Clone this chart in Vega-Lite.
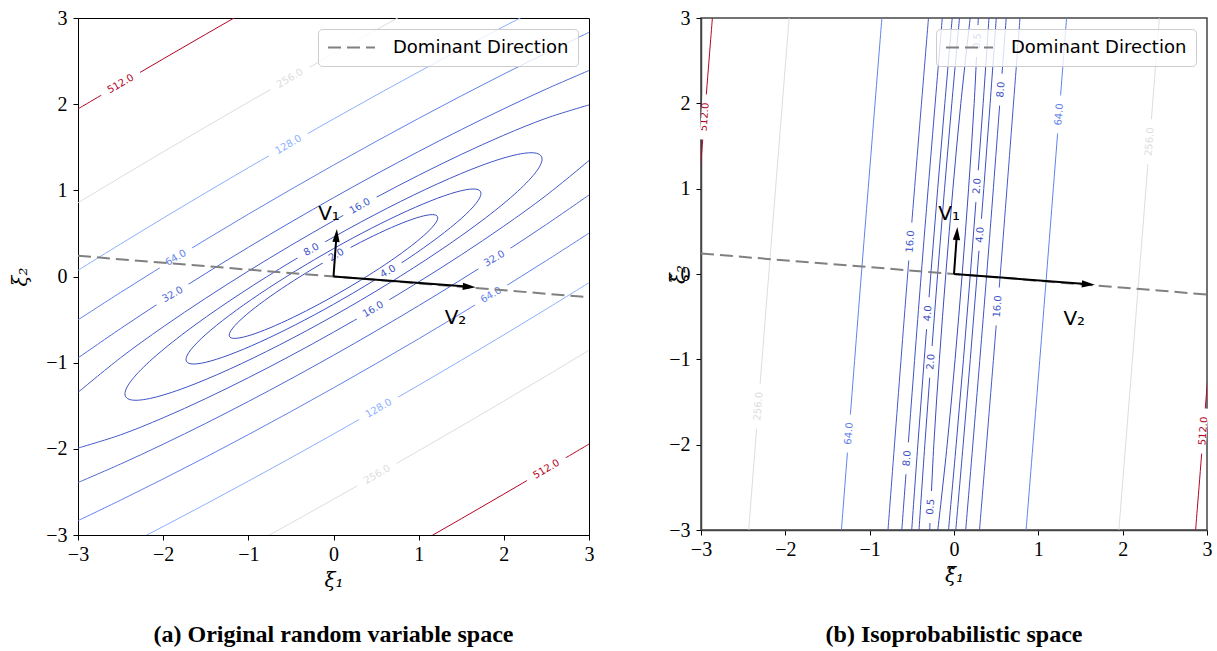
{
  "$schema": "https://vega.github.io/schema/vega-lite/v6.json",
  "padding": {"left": 10, "top": 7, "right": 5, "bottom": 5},
  "spacing": 72,
  "background": "white",
  "datasets": {
    "lc": [
      {"lvl":2,"seg":"e2","i":0,"x":1.2244,"y":0.6809},{"lvl":2,"seg":"e2","i":1,"x":1.1827,"y":0.7168},{"lvl":2,"seg":"e2","i":2,"x":1.0603,"y":0.704},{"lvl":2,"seg":"e2","i":3,"x":0.8658,"y":0.6431},{"lvl":2,"seg":"e2","i":4,"x":0.6122,"y":0.5383},{"lvl":2,"seg":"e2","i":5,"x":0.3169,"y":0.3969},{"lvl":2,"seg":"e2","i":6,"x":0,"y":0.2285},{"lvl":2,"seg":"e2","i":7,"x":-0.3169,"y":0.0445},{"lvl":2,"seg":"e2","i":8,"x":-0.6122,"y":-0.1425},{"lvl":2,"seg":"e2","i":9,"x":-0.8658,"y":-0.3199},{"lvl":2,"seg":"e2","i":10,"x":-1.0603,"y":-0.4754},{"lvl":2,"seg":"e2","i":11,"x":-1.1827,"y":-0.5986},
      {"lvl":2,"seg":"e2","i":12,"x":-1.2244,"y":-0.6809},{"lvl":2,"seg":"e2","i":13,"x":-1.1827,"y":-0.7168},{"lvl":2,"seg":"e2","i":14,"x":-1.0603,"y":-0.704},{"lvl":2,"seg":"e2","i":15,"x":-0.8658,"y":-0.6431},{"lvl":2,"seg":"e2","i":16,"x":-0.6122,"y":-0.5383},{"lvl":2,"seg":"e2","i":17,"x":-0.3169,"y":-0.3969},{"lvl":2,"seg":"e2","i":18,"x":0,"y":-0.2285},{"lvl":2,"seg":"e2","i":19,"x":0.3169,"y":-0.0445},{"lvl":2,"seg":"e2","i":20,"x":0.6122,"y":0.1425},{"lvl":2,"seg":"e2","i":21,"x":0.8658,"y":0.3199},{"lvl":2,"seg":"e2","i":22,"x":1.0603,"y":0.4754},{"lvl":2,"seg":"e2","i":23,"x":1.1827,"y":0.5986},
      {"lvl":4,"seg":"e4","i":0,"x":1.7316,"y":0.963},{"lvl":4,"seg":"e4","i":1,"x":1.6726,"y":1.0137},{"lvl":4,"seg":"e4","i":2,"x":1.4996,"y":0.9955},{"lvl":4,"seg":"e4","i":3,"x":1.2244,"y":0.9094},{"lvl":4,"seg":"e4","i":4,"x":0.8658,"y":0.7614},{"lvl":4,"seg":"e4","i":5,"x":0.4481,"y":0.5614},{"lvl":4,"seg":"e4","i":6,"x":0,"y":0.3232},{"lvl":4,"seg":"e4","i":7,"x":-0.4481,"y":0.063},{"lvl":4,"seg":"e4","i":8,"x":-0.8658,"y":-0.2016},{"lvl":4,"seg":"e4","i":9,"x":-1.2244,"y":-0.4524},{"lvl":4,"seg":"e4","i":10,"x":-1.4996,"y":-0.6723},{"lvl":4,"seg":"e4","i":11,"x":-1.6726,"y":-0.8465},
      {"lvl":4,"seg":"e4","i":12,"x":-1.7316,"y":-0.963},{"lvl":4,"seg":"e4","i":13,"x":-1.6726,"y":-1.0137},{"lvl":4,"seg":"e4","i":14,"x":-1.4996,"y":-0.9955},{"lvl":4,"seg":"e4","i":15,"x":-1.2244,"y":-0.9094},{"lvl":4,"seg":"e4","i":16,"x":-0.8658,"y":-0.7614},{"lvl":4,"seg":"e4","i":17,"x":-0.4481,"y":-0.5614},{"lvl":4,"seg":"e4","i":18,"x":0,"y":-0.3232},{"lvl":4,"seg":"e4","i":19,"x":0.4481,"y":-0.063},{"lvl":4,"seg":"e4","i":20,"x":0.8658,"y":0.2016},{"lvl":4,"seg":"e4","i":21,"x":1.2244,"y":0.4524},{"lvl":4,"seg":"e4","i":22,"x":1.4996,"y":0.6723},{"lvl":4,"seg":"e4","i":23,"x":1.6726,"y":0.8465},
      {"lvl":8,"seg":"e8","i":0,"x":2.4487,"y":1.3618},{"lvl":8,"seg":"e8","i":1,"x":2.3652,"y":1.4336},{"lvl":8,"seg":"e8","i":2,"x":2.1206,"y":1.4078},{"lvl":8,"seg":"e8","i":3,"x":1.7315,"y":1.2861},{"lvl":8,"seg":"e8","i":4,"x":1.2244,"y":1.0767},{"lvl":8,"seg":"e8","i":5,"x":0.6337,"y":0.7938},{"lvl":8,"seg":"e8","i":6,"x":0,"y":0.457},{"lvl":8,"seg":"e8","i":7,"x":-0.6337,"y":0.089},{"lvl":8,"seg":"e8","i":8,"x":-1.2244,"y":-0.2851},{"lvl":8,"seg":"e8","i":9,"x":-1.7315,"y":-0.6397},{"lvl":8,"seg":"e8","i":10,"x":-2.1206,"y":-0.9508},{"lvl":8,"seg":"e8","i":11,"x":-2.3652,"y":-1.197},
      {"lvl":8,"seg":"e8","i":12,"x":-2.4487,"y":-1.3618},{"lvl":8,"seg":"e8","i":13,"x":-2.3652,"y":-1.4336},{"lvl":8,"seg":"e8","i":14,"x":-2.1206,"y":-1.4078},{"lvl":8,"seg":"e8","i":15,"x":-1.7315,"y":-1.2861},{"lvl":8,"seg":"e8","i":16,"x":-1.2244,"y":-1.0767},{"lvl":8,"seg":"e8","i":17,"x":-0.6337,"y":-0.7938},{"lvl":8,"seg":"e8","i":18,"x":0,"y":-0.457},{"lvl":8,"seg":"e8","i":19,"x":0.6337,"y":-0.089},{"lvl":8,"seg":"e8","i":20,"x":1.2244,"y":0.2851},{"lvl":8,"seg":"e8","i":21,"x":1.7315,"y":0.6397},{"lvl":8,"seg":"e8","i":22,"x":2.1206,"y":0.9508},{"lvl":8,"seg":"e8","i":23,"x":2.3652,"y":1.197}
    ],
    "lo": [
      {"lvl":16,"seg":"16u","i":0,"x":-3,"y":-1.3454},{"lvl":16,"seg":"16u","i":1,"x":-2.5,"y":-0.943},{"lvl":16,"seg":"16u","i":2,"x":-2,"y":-0.5845},{"lvl":16,"seg":"16u","i":3,"x":-1.5,"y":-0.2516},{"lvl":16,"seg":"16u","i":4,"x":-1,"y":0.0627},{"lvl":16,"seg":"16u","i":5,"x":-0.5,"y":0.3615},{"lvl":16,"seg":"16u","i":6,"x":0,"y":0.6464},{"lvl":16,"seg":"16u","i":7,"x":0.5,"y":0.9177},{"lvl":16,"seg":"16u","i":8,"x":1,"y":1.1749},{"lvl":16,"seg":"16u","i":9,"x":1.5,"y":1.4168},{"lvl":16,"seg":"16u","i":10,"x":2,"y":1.6399},{"lvl":16,"seg":"16u","i":11,"x":2.5,"y":1.8376},{"lvl":16,"seg":"16u","i":12,"x":3,"y":1.9912},
      {"lvl":16,"seg":"16l","i":0,"x":-3,"y":-1.9912},{"lvl":16,"seg":"16l","i":1,"x":-2.5,"y":-1.8376},{"lvl":16,"seg":"16l","i":2,"x":-2,"y":-1.6399},{"lvl":16,"seg":"16l","i":3,"x":-1.5,"y":-1.4168},{"lvl":16,"seg":"16l","i":4,"x":-1,"y":-1.1749},{"lvl":16,"seg":"16l","i":5,"x":-0.5,"y":-0.9177},{"lvl":16,"seg":"16l","i":6,"x":0,"y":-0.6464},{"lvl":16,"seg":"16l","i":7,"x":0.5,"y":-0.3615},{"lvl":16,"seg":"16l","i":8,"x":1,"y":-0.0627},{"lvl":16,"seg":"16l","i":9,"x":1.5,"y":0.2516},{"lvl":16,"seg":"16l","i":10,"x":2,"y":0.5845},{"lvl":16,"seg":"16l","i":11,"x":2.5,"y":0.943},{"lvl":16,"seg":"16l","i":12,"x":3,"y":1.3454},
      {"lvl":32,"seg":"32u","i":0,"x":-3,"y":-0.9458},{"lvl":32,"seg":"32u","i":1,"x":-2.5,"y":-0.6043},{"lvl":32,"seg":"32u","i":2,"x":-2,"y":-0.2778},{"lvl":32,"seg":"32u","i":3,"x":-1.5,"y":0.0359},{"lvl":32,"seg":"32u","i":4,"x":-1,"y":0.3387},{"lvl":32,"seg":"32u","i":5,"x":-0.5,"y":0.6312},{"lvl":32,"seg":"32u","i":6,"x":0,"y":0.9141},{"lvl":32,"seg":"32u","i":7,"x":0.5,"y":1.1874},{"lvl":32,"seg":"32u","i":8,"x":1,"y":1.4509},{"lvl":32,"seg":"32u","i":9,"x":1.5,"y":1.7043},{"lvl":32,"seg":"32u","i":10,"x":2,"y":1.9466},{"lvl":32,"seg":"32u","i":11,"x":2.5,"y":2.1763},{"lvl":32,"seg":"32u","i":12,"x":3,"y":2.3908},
      {"lvl":32,"seg":"32l","i":0,"x":-3,"y":-2.3908},{"lvl":32,"seg":"32l","i":1,"x":-2.5,"y":-2.1763},{"lvl":32,"seg":"32l","i":2,"x":-2,"y":-1.9466},{"lvl":32,"seg":"32l","i":3,"x":-1.5,"y":-1.7043},{"lvl":32,"seg":"32l","i":4,"x":-1,"y":-1.4509},{"lvl":32,"seg":"32l","i":5,"x":-0.5,"y":-1.1874},{"lvl":32,"seg":"32l","i":6,"x":0,"y":-0.9141},{"lvl":32,"seg":"32l","i":7,"x":0.5,"y":-0.6312},{"lvl":32,"seg":"32l","i":8,"x":1,"y":-0.3387},{"lvl":32,"seg":"32l","i":9,"x":1.5,"y":-0.0359},{"lvl":32,"seg":"32l","i":10,"x":2,"y":0.2778},{"lvl":32,"seg":"32l","i":11,"x":2.5,"y":0.6043},{"lvl":32,"seg":"32l","i":12,"x":3,"y":0.9458},
      {"lvl":64,"seg":"64u","i":0,"x":-3,"y":-0.5032},{"lvl":64,"seg":"64u","i":1,"x":-2.5,"y":-0.1848},{"lvl":64,"seg":"64u","i":2,"x":-2,"y":0.1254},{"lvl":64,"seg":"64u","i":3,"x":-1.5,"y":0.4278},{"lvl":64,"seg":"64u","i":4,"x":-1,"y":0.723},{"lvl":64,"seg":"64u","i":5,"x":-0.5,"y":1.0112},{"lvl":64,"seg":"64u","i":6,"x":0,"y":1.2927},{"lvl":64,"seg":"64u","i":7,"x":0.5,"y":1.5674},{"lvl":64,"seg":"64u","i":8,"x":1,"y":1.8352},{"lvl":64,"seg":"64u","i":9,"x":1.5,"y":2.0962},{"lvl":64,"seg":"64u","i":10,"x":2,"y":2.3498},{"lvl":64,"seg":"64u","i":11,"x":2.5,"y":2.5958},{"lvl":64,"seg":"64u","i":12,"x":3,"y":2.8334},
      {"lvl":64,"seg":"64l","i":0,"x":-3,"y":-2.8334},{"lvl":64,"seg":"64l","i":1,"x":-2.5,"y":-2.5958},{"lvl":64,"seg":"64l","i":2,"x":-2,"y":-2.3498},{"lvl":64,"seg":"64l","i":3,"x":-1.5,"y":-2.0962},{"lvl":64,"seg":"64l","i":4,"x":-1,"y":-1.8352},{"lvl":64,"seg":"64l","i":5,"x":-0.5,"y":-1.5674},{"lvl":64,"seg":"64l","i":6,"x":0,"y":-1.2927},{"lvl":64,"seg":"64l","i":7,"x":0.5,"y":-1.0112},{"lvl":64,"seg":"64l","i":8,"x":1,"y":-0.723},{"lvl":64,"seg":"64l","i":9,"x":1.5,"y":-0.4278},{"lvl":64,"seg":"64l","i":10,"x":2,"y":-0.1254},{"lvl":64,"seg":"64l","i":11,"x":2.5,"y":0.1848},{"lvl":64,"seg":"64l","i":12,"x":3,"y":0.5032},
      {"lvl":128,"seg":"128u","i":0,"x":-3,"y":0.072},{"lvl":128,"seg":"128u","i":1,"x":-2.5,"y":0.3773},{"lvl":128,"seg":"128u","i":2,"x":-2,"y":0.6774},{"lvl":128,"seg":"128u","i":3,"x":-1.5,"y":0.9724},{"lvl":128,"seg":"128u","i":4,"x":-1,"y":1.2625},{"lvl":128,"seg":"128u","i":5,"x":-0.5,"y":1.5477},{"lvl":128,"seg":"128u","i":6,"x":0,"y":1.8281},{"lvl":128,"seg":"128u","i":7,"x":0.5,"y":2.1039},{"lvl":128,"seg":"128u","i":8,"x":1,"y":2.3747},{"lvl":128,"seg":"128u","i":9,"x":1.5,"y":2.6408},{"lvl":128,"seg":"128u","i":10,"x":2,"y":2.9018},{"lvl":128,"seg":"128u","i":11,"x":2.5,"y":3.1579},{"lvl":128,"seg":"128u","i":12,"x":3,"y":3.4086},
      {"lvl":128,"seg":"128l","i":0,"x":-3,"y":-3.4086},{"lvl":128,"seg":"128l","i":1,"x":-2.5,"y":-3.1579},{"lvl":128,"seg":"128l","i":2,"x":-2,"y":-2.9018},{"lvl":128,"seg":"128l","i":3,"x":-1.5,"y":-2.6408},{"lvl":128,"seg":"128l","i":4,"x":-1,"y":-2.3747},{"lvl":128,"seg":"128l","i":5,"x":-0.5,"y":-2.1039},{"lvl":128,"seg":"128l","i":6,"x":0,"y":-1.8281},{"lvl":128,"seg":"128l","i":7,"x":0.5,"y":-1.5477},{"lvl":128,"seg":"128l","i":8,"x":1,"y":-1.2625},{"lvl":128,"seg":"128l","i":9,"x":1.5,"y":-0.9724},{"lvl":128,"seg":"128l","i":10,"x":2,"y":-0.6774},{"lvl":128,"seg":"128l","i":11,"x":2.5,"y":-0.3773},{"lvl":128,"seg":"128l","i":12,"x":3,"y":-0.072},
      {"lvl":256,"seg":"256u","i":0,"x":-3,"y":0.8557},{"lvl":256,"seg":"256u","i":1,"x":-2.5,"y":1.1526},{"lvl":256,"seg":"256u","i":2,"x":-2,"y":1.4461},{"lvl":256,"seg":"256u","i":3,"x":-1.5,"y":1.736},{"lvl":256,"seg":"256u","i":4,"x":-1,"y":2.0225},{"lvl":256,"seg":"256u","i":5,"x":-0.5,"y":2.3056},{"lvl":256,"seg":"256u","i":6,"x":0,"y":2.5854},{"lvl":256,"seg":"256u","i":7,"x":0.5,"y":2.8618},{"lvl":256,"seg":"256u","i":8,"x":1,"y":3.1347},{"lvl":256,"seg":"256u","i":9,"x":1.5,"y":3.4044},
      {"lvl":256,"seg":"256l","i":0,"x":-1.5,"y":-3.4044},{"lvl":256,"seg":"256l","i":1,"x":-1,"y":-3.1347},{"lvl":256,"seg":"256l","i":2,"x":-0.5,"y":-2.8618},{"lvl":256,"seg":"256l","i":3,"x":0,"y":-2.5854},{"lvl":256,"seg":"256l","i":4,"x":0.5,"y":-2.3056},{"lvl":256,"seg":"256l","i":5,"x":1,"y":-2.0225},{"lvl":256,"seg":"256l","i":6,"x":1.5,"y":-1.736},{"lvl":256,"seg":"256l","i":7,"x":2,"y":-1.4461},{"lvl":256,"seg":"256l","i":8,"x":2.5,"y":-1.1526},{"lvl":256,"seg":"256l","i":9,"x":3,"y":-0.8557},
      {"lvl":512,"seg":"512u","i":0,"x":-3,"y":1.9449},{"lvl":512,"seg":"512u","i":1,"x":-2.5,"y":2.2361},{"lvl":512,"seg":"512u","i":2,"x":-2,"y":2.525},{"lvl":512,"seg":"512u","i":3,"x":-1.5,"y":2.8113},{"lvl":512,"seg":"512u","i":4,"x":-1,"y":3.0954},{"lvl":512,"seg":"512u","i":5,"x":-0.5,"y":3.377},
      {"lvl":512,"seg":"512l","i":0,"x":0.5,"y":-3.377},{"lvl":512,"seg":"512l","i":1,"x":1,"y":-3.0954},{"lvl":512,"seg":"512l","i":2,"x":1.5,"y":-2.8113},{"lvl":512,"seg":"512l","i":3,"x":2,"y":-2.525},{"lvl":512,"seg":"512l","i":4,"x":2.5,"y":-2.2361},{"lvl":512,"seg":"512l","i":5,"x":3,"y":-1.9449}
    ],
    "ll": [
      {"lvl":2,"t":"2.0","x":0.035,"y":0.25},
      {"lvl":4,"t":"4.0","x":0.64,"y":0.06},
      {"lvl":8,"t":"8.0","x":-0.26,"y":0.31},
      {"lvl":16,"t":"16.0","x":0.31,"y":0.816},
      {"lvl":16,"t":"16.0","x":0.465,"y":-0.382},
      {"lvl":32,"t":"32.0","x":-1.89,"y":-0.208},
      {"lvl":32,"t":"32.0","x":1.89,"y":0.208},
      {"lvl":64,"t":"64.0","x":-1.85,"y":0.216},
      {"lvl":64,"t":"64.0","x":1.85,"y":-0.216},
      {"lvl":128,"t":"128.0","x":-0.53,"y":1.53},
      {"lvl":128,"t":"128.0","x":0.53,"y":-1.53},
      {"lvl":256,"t":"256.0","x":-0.512,"y":2.299},
      {"lvl":256,"t":"256.0","x":0.512,"y":-2.299},
      {"lvl":512,"t":"512.0","x":-2.5,"y":2.236},
      {"lvl":512,"t":"512.0","x":2.5,"y":-2.236}
    ],
    "ro": [
      {"lvl":0.5,"seg":"0.5a","i":0,"y":-3,"x":-0.2883},{"lvl":0.5,"seg":"0.5a","i":1,"y":-2,"x":-0.2392},{"lvl":0.5,"seg":"0.5a","i":2,"y":-1,"x":-0.1729},{"lvl":0.5,"seg":"0.5a","i":3,"y":0,"x":-0.0971},{"lvl":0.5,"seg":"0.5a","i":4,"y":1,"x":-0.0129},{"lvl":0.5,"seg":"0.5a","i":5,"y":2,"x":0.0808},{"lvl":0.5,"seg":"0.5a","i":6,"y":3,"x":0.1917},
      {"lvl":0.5,"seg":"0.5b","i":0,"y":-3,"x":-0.1917},{"lvl":0.5,"seg":"0.5b","i":1,"y":-2,"x":-0.0808},{"lvl":0.5,"seg":"0.5b","i":2,"y":-1,"x":0.0129},{"lvl":0.5,"seg":"0.5b","i":3,"y":0,"x":0.0971},{"lvl":0.5,"seg":"0.5b","i":4,"y":1,"x":0.1729},{"lvl":0.5,"seg":"0.5b","i":5,"y":2,"x":0.2392},{"lvl":0.5,"seg":"0.5b","i":6,"y":3,"x":0.2883},
      {"lvl":2,"seg":"2a","i":0,"y":-3,"x":-0.4149},{"lvl":2,"seg":"2a","i":1,"y":-2,"x":-0.3458},{"lvl":2,"seg":"2a","i":2,"y":-1,"x":-0.2721},{"lvl":2,"seg":"2a","i":3,"y":0,"x":-0.1941},{"lvl":2,"seg":"2a","i":4,"y":1,"x":-0.1121},{"lvl":2,"seg":"2a","i":5,"y":2,"x":-0.0258},{"lvl":2,"seg":"2a","i":6,"y":3,"x":0.0651},
      {"lvl":2,"seg":"2b","i":0,"y":-3,"x":-0.0651},{"lvl":2,"seg":"2b","i":1,"y":-2,"x":0.0258},{"lvl":2,"seg":"2b","i":2,"y":-1,"x":0.1121},{"lvl":2,"seg":"2b","i":3,"y":0,"x":0.1941},{"lvl":2,"seg":"2b","i":4,"y":1,"x":0.2721},{"lvl":2,"seg":"2b","i":5,"y":2,"x":0.3458},{"lvl":2,"seg":"2b","i":6,"y":3,"x":0.4149},
      {"lvl":4,"seg":"4a","i":0,"y":-3,"x":-0.5013},{"lvl":4,"seg":"4a","i":1,"y":-2,"x":-0.4287},{"lvl":4,"seg":"4a","i":2,"y":-1,"x":-0.3531},{"lvl":4,"seg":"4a","i":3,"y":0,"x":-0.2745},{"lvl":4,"seg":"4a","i":4,"y":1,"x":-0.1931},{"lvl":4,"seg":"4a","i":5,"y":2,"x":-0.1087},{"lvl":4,"seg":"4a","i":6,"y":3,"x":-0.0213},
      {"lvl":4,"seg":"4b","i":0,"y":-3,"x":0.0213},{"lvl":4,"seg":"4b","i":1,"y":-2,"x":0.1087},{"lvl":4,"seg":"4b","i":2,"y":-1,"x":0.1931},{"lvl":4,"seg":"4b","i":3,"y":0,"x":0.2745},{"lvl":4,"seg":"4b","i":4,"y":1,"x":0.3531},{"lvl":4,"seg":"4b","i":5,"y":2,"x":0.4287},{"lvl":4,"seg":"4b","i":6,"y":3,"x":0.5013},
      {"lvl":8,"seg":"8a","i":0,"y":-3,"x":-0.619},{"lvl":8,"seg":"8a","i":1,"y":0,"x":-0.3883},{"lvl":8,"seg":"8a","i":2,"y":3,"x":-0.139},
      {"lvl":8,"seg":"8b","i":0,"y":-3,"x":0.139},{"lvl":8,"seg":"8b","i":1,"y":0,"x":0.3883},{"lvl":8,"seg":"8b","i":2,"y":3,"x":0.619},
      {"lvl":16,"seg":"16a","i":0,"y":-3,"x":-0.7826},{"lvl":16,"seg":"16a","i":1,"y":0,"x":-0.5491},{"lvl":16,"seg":"16a","i":2,"y":3,"x":-0.3026},
      {"lvl":16,"seg":"16b","i":0,"y":-3,"x":0.3026},{"lvl":16,"seg":"16b","i":1,"y":0,"x":0.5491},{"lvl":16,"seg":"16b","i":2,"y":3,"x":0.7826},
      {"lvl":64,"seg":"64a","i":0,"y":-3,"x":-1.3349},{"lvl":64,"seg":"64a","i":1,"y":0,"x":-1.0982},{"lvl":64,"seg":"64a","i":2,"y":3,"x":-0.8549},
      {"lvl":64,"seg":"64b","i":0,"y":-3,"x":0.8549},{"lvl":64,"seg":"64b","i":1,"y":0,"x":1.0982},{"lvl":64,"seg":"64b","i":2,"y":3,"x":1.3349},
      {"lvl":256,"seg":"256a","i":0,"y":-3,"x":-2.4347},{"lvl":256,"seg":"256a","i":1,"y":0,"x":-2.1963},{"lvl":256,"seg":"256a","i":2,"y":3,"x":-1.9547},
      {"lvl":256,"seg":"256b","i":0,"y":-3,"x":1.9547},{"lvl":256,"seg":"256b","i":1,"y":0,"x":2.1963},{"lvl":256,"seg":"256b","i":2,"y":3,"x":2.4347},
      {"lvl":512,"seg":"512a","i":0,"y":-3,"x":-3.3449},{"lvl":512,"seg":"512a","i":1,"y":0,"x":-3.1061},{"lvl":512,"seg":"512a","i":2,"y":3,"x":-2.8649},
      {"lvl":512,"seg":"512b","i":0,"y":-3,"x":2.8649},{"lvl":512,"seg":"512b","i":1,"y":0,"x":3.1061},{"lvl":512,"seg":"512b","i":2,"y":3,"x":3.3449}
    ],
    "rl": [
      {"lvl":0.5,"t":"0.5","x":0.278,"y":2.73},
      {"lvl":0.5,"t":"0.5","x":-0.278,"y":-2.73},
      {"lvl":2,"t":"2.0","x":0.274,"y":1.03},
      {"lvl":2,"t":"2.0","x":-0.274,"y":-1.03},
      {"lvl":4,"t":"4.0","x":0.31,"y":0.46},
      {"lvl":4,"t":"4.0","x":-0.31,"y":-0.46},
      {"lvl":8,"t":"8.0","x":0.557,"y":2.16},
      {"lvl":8,"t":"8.0","x":-0.557,"y":-2.16},
      {"lvl":16,"t":"16.0","x":-0.518,"y":0.38},
      {"lvl":16,"t":"16.0","x":0.518,"y":-0.38},
      {"lvl":64,"t":"64.0","x":1.247,"y":1.87},
      {"lvl":64,"t":"64.0","x":-1.247,"y":-1.87},
      {"lvl":256,"t":"256.0","x":2.32,"y":1.55},
      {"lvl":256,"t":"256.0","x":-2.32,"y":-1.55},
      {"lvl":512,"t":"512.0","x":-2.958,"y":1.84},
      {"lvl":512,"t":"512.0","x":2.958,"y":-1.84}
    ],
    "dom": [{"name":"Dominant Direction","x":-3,"y":0.24},{"name":"Dominant Direction","x":3,"y":-0.24}],
    "shaft": [{"v":"V1","i":0,"x":0,"y":0},{"v":"V1","i":1,"x":0.033,"y":0.45},{"v":"V2","i":0,"x":0,"y":0},{"v":"V2","i":1,"x":1.563,"y":-0.117}],
    "head": [{"v":"V1","x":0.04,"y":0.55},{"v":"V2","x":1.67,"y":-0.125}],
    "vl": [{"t":"V₁","x":-0.18,"y":0.65},{"t":"V₂","x":1.305,"y":-0.548}],
    "vr": [{"t":"V₁","x":-0.186,"y":0.638},{"t":"V₂","x":1.297,"y":-0.593}]
  },
  "hconcat": [
    {
      "width": 511,
      "height": 517,
      "view": {"stroke": "black", "strokeWidth": 1},
      "title": {"text": "(a) Original random variable space", "orient": "bottom", "offset": 33},
      "layer": [
        {
          "data": {"name": "lc"},
          "mark": {"type": "line", "interpolate": "cardinal-closed", "strokeWidth": 1, "clip": true},
          "encoding": {
            "x": {"field": "x", "type": "quantitative", "scale": {"domain": [-3, 3], "nice": false, "zero": false}, "axis": {"title": "ξ₁", "values": [-3, -2, -1, 0, 1, 2, 3], "format": "d", "labelFont": "Liberation Serif"}},
            "y": {"field": "y", "type": "quantitative", "scale": {"domain": [-3, 3], "nice": false, "zero": false}, "axis": {"title": "ξ₂", "values": [-3, -2, -1, 0, 1, 2, 3], "format": "d", "labelFont": "Liberation Serif", "titlePadding": 15}},
            "color": {"field": "lvl", "type": "ordinal", "scale": {"domain": [0.5, 2, 4, 8, 16, 32, 64, 128, 256, 512], "range": ["#3b4cc0", "#3c4ec2", "#3d50c3", "#3f53c6", "#445acc", "#4d68d7", "#6282ea", "#8db0fe", "#dddddd", "#b40426"]}, "legend": null},
            "detail": {"field": "seg"},
            "order": {"field": "i", "type": "quantitative"}
          }
        },
        {
          "data": {"name": "lo"},
          "mark": {"type": "line", "interpolate": "cardinal", "strokeWidth": 1, "clip": true},
          "encoding": {
            "x": {"field": "x", "type": "quantitative"},
            "y": {"field": "y", "type": "quantitative"},
            "color": {"field": "lvl", "type": "ordinal", "legend": null},
            "detail": {"field": "seg"},
            "order": {"field": "i", "type": "quantitative"}
          }
        },
        {
          "data": {"name": "ll"},
          "mark": {"type": "point", "filled": true, "color": "white", "opacity": 1, "size": 3600, "angle": -30, "strokeWidth": 0},
          "encoding": {
            "x": {"field": "x", "type": "quantitative"},
            "y": {"field": "y", "type": "quantitative"},
            "shape": {"field": "t", "type": "nominal", "scale": {"domain": ["0.5", "2.0", "4.0", "8.0", "16.0", "32.0", "64.0", "128.0", "256.0", "512.0"], "range": ["M-0.533,-0.117H0.533V0.117H-0.533Z", "M-0.533,-0.117H0.533V0.117H-0.533Z", "M-0.533,-0.117H0.533V0.117H-0.533Z", "M-0.533,-0.117H0.533V0.117H-0.533Z", "M-0.633,-0.117H0.633V0.117H-0.633Z", "M-0.633,-0.117H0.633V0.117H-0.633Z", "M-0.633,-0.117H0.633V0.117H-0.633Z", "M-0.75,-0.117H0.75V0.117H-0.75Z", "M-0.75,-0.117H0.75V0.117H-0.75Z", "M-0.75,-0.117H0.75V0.117H-0.75Z"]}, "legend": null}
          }
        },
        {
          "data": {"name": "ll"},
          "mark": {"type": "text", "font": "DejaVu Sans", "fontSize": 10, "angle": -30, "align": "center", "baseline": "middle"},
          "encoding": {
            "x": {"field": "x", "type": "quantitative"},
            "y": {"field": "y", "type": "quantitative"},
            "text": {"field": "t"},
            "color": {"field": "lvl", "type": "ordinal", "legend": null}
          }
        },
        {
          "data": {"name": "dom"},
          "mark": {"type": "line", "color": "gray", "strokeWidth": 2},
          "encoding": {
            "x": {"field": "x", "type": "quantitative"},
            "y": {"field": "y", "type": "quantitative"},
            "strokeDash": {"field": "name", "type": "nominal", "scale": {"range": [[13, 6]]}, "legend": {"title": null}}
          }
        },
        {
          "data": {"name": "shaft"},
          "mark": {"type": "line", "color": "black", "strokeWidth": 2},
          "encoding": {
            "x": {"field": "x", "type": "quantitative"},
            "y": {"field": "y", "type": "quantitative"},
            "detail": {"field": "v"},
            "order": {"field": "i", "type": "quantitative"}
          }
        },
        {
          "data": {"name": "head"},
          "transform": [{"filter": "datum.v === 'V1'"}],
          "mark": {"type": "point", "shape": "M0,0L-0.28,1L0.28,1Z", "size": 676, "filled": true, "color": "black", "opacity": 1, "angle": 4},
          "encoding": {"x": {"field": "x", "type": "quantitative"}, "y": {"field": "y", "type": "quantitative"}}
        },
        {
          "data": {"name": "head"},
          "transform": [{"filter": "datum.v === 'V2'"}],
          "mark": {"type": "point", "shape": "M0,0L-0.28,1L0.28,1Z", "size": 676, "filled": true, "color": "black", "opacity": 1, "angle": 94},
          "encoding": {"x": {"field": "x", "type": "quantitative"}, "y": {"field": "y", "type": "quantitative"}}
        },
        {
          "data": {"name": "vl"},
          "mark": {"type": "text", "font": "DejaVu Sans", "fontSize": 20, "align": "left", "baseline": "alphabetic", "color": "black"},
          "encoding": {"x": {"field": "x", "type": "quantitative"}, "y": {"field": "y", "type": "quantitative"}, "text": {"field": "t"}}
        }
      ]
    },
    {
      "width": 506,
      "height": 512,
      "view": {"stroke": "#444444", "strokeWidth": 1.5},
      "title": {"text": "(b) Isoprobabilistic space", "orient": "bottom", "offset": 38},
      "layer": [
        {
          "data": {"name": "ro"},
          "mark": {"type": "line", "interpolate": "cardinal", "strokeWidth": 1, "clip": true},
          "encoding": {
            "x": {"field": "x", "type": "quantitative", "scale": {"domain": [-3, 3], "nice": false, "zero": false}, "axis": {"title": "ξ̃₁", "values": [-3, -2, -1, 0, 1, 2, 3], "format": "d", "labelFont": "Liberation Serif", "domainColor": "#444444", "domainWidth": 1.5}},
            "y": {"field": "y", "type": "quantitative", "scale": {"domain": [-3, 3], "nice": false, "zero": false}, "axis": {"title": "ξ̃₂", "values": [-3, -2, -1, 0, 1, 2, 3], "format": "d", "labelFont": "Liberation Serif", "titlePadding": -20, "domainColor": "#444444", "domainWidth": 1.5}},
            "color": {"field": "lvl", "type": "ordinal", "legend": null},
            "detail": {"field": "seg"},
            "order": {"field": "i", "type": "quantitative"}
          }
        },
        {
          "data": {"name": "rl"},
          "mark": {"type": "point", "filled": true, "color": "white", "opacity": 1, "size": 3600, "angle": -85.5, "strokeWidth": 0},
          "encoding": {
            "x": {"field": "x", "type": "quantitative"},
            "y": {"field": "y", "type": "quantitative"},
            "shape": {"field": "t", "type": "nominal", "legend": null}
          }
        },
        {
          "data": {"name": "rl"},
          "mark": {"type": "text", "font": "DejaVu Sans", "fontSize": 10, "angle": -85.5, "align": "center", "baseline": "middle", "clip": true},
          "encoding": {
            "x": {"field": "x", "type": "quantitative"},
            "y": {"field": "y", "type": "quantitative"},
            "text": {"field": "t"},
            "color": {"field": "lvl", "type": "ordinal", "legend": null}
          }
        },
        {
          "data": {"name": "dom"},
          "mark": {"type": "line", "color": "gray", "strokeWidth": 2},
          "encoding": {
            "x": {"field": "x", "type": "quantitative"},
            "y": {"field": "y", "type": "quantitative"},
            "strokeDash": {"field": "name", "type": "nominal", "scale": {"range": [[13, 6]]}, "legend": {"title": null}}
          }
        },
        {
          "data": {"name": "shaft"},
          "mark": {"type": "line", "color": "black", "strokeWidth": 2},
          "encoding": {
            "x": {"field": "x", "type": "quantitative"},
            "y": {"field": "y", "type": "quantitative"},
            "detail": {"field": "v"},
            "order": {"field": "i", "type": "quantitative"}
          }
        },
        {
          "data": {"name": "head"},
          "transform": [{"filter": "datum.v === 'V1'"}],
          "mark": {"type": "point", "shape": "M0,0L-0.28,1L0.28,1Z", "size": 676, "filled": true, "color": "black", "opacity": 1, "angle": 4},
          "encoding": {"x": {"field": "x", "type": "quantitative"}, "y": {"field": "y", "type": "quantitative"}}
        },
        {
          "data": {"name": "head"},
          "transform": [{"filter": "datum.v === 'V2'"}],
          "mark": {"type": "point", "shape": "M0,0L-0.28,1L0.28,1Z", "size": 676, "filled": true, "color": "black", "opacity": 1, "angle": 94},
          "encoding": {"x": {"field": "x", "type": "quantitative"}, "y": {"field": "y", "type": "quantitative"}}
        },
        {
          "data": {"name": "vr"},
          "mark": {"type": "text", "font": "DejaVu Sans", "fontSize": 20, "align": "left", "baseline": "alphabetic", "color": "black"},
          "encoding": {"x": {"field": "x", "type": "quantitative"}, "y": {"field": "y", "type": "quantitative"}, "text": {"field": "t"}}
        }
      ]
    }
  ],
  "resolve": {"scale": {"strokeDash": "independent", "shape": "shared"}, "legend": {"strokeDash": "independent"}},
  "config": {
    "axis": {"grid": false, "domainColor": "black", "tickColor": "black", "tickSize": 5, "labelFont": "Liberation Serif", "labelFontSize": 20, "labelColor": "black", "titleFont": "DejaVu Serif", "titleFontSize": 20, "titleFontWeight": "normal", "titleFontStyle": "italic", "titleColor": "black", "labelFlush": false},
    "axisX": {"labelPadding": 4, "titlePadding": 6},
    "axisY": {"labelPadding": 6},
    "legend": {"orient": "top-right", "offset": 11, "padding": 9, "fillColor": "rgba(255,255,255,0.8)", "strokeColor": "#cccccc", "cornerRadius": 4, "labelFont": "DejaVu Sans", "labelFontSize": 18, "labelColor": "black", "labelOffset": 17, "labelLimit": 400, "symbolType": "stroke", "symbolSize": 2209, "symbolStrokeWidth": 2, "symbolStrokeColor": "gray", "clipHeight": 19},
    "title": {"font": "Liberation Serif", "fontWeight": "bold", "fontSize": 24, "color": "black", "anchor": "middle"}
  }
}
